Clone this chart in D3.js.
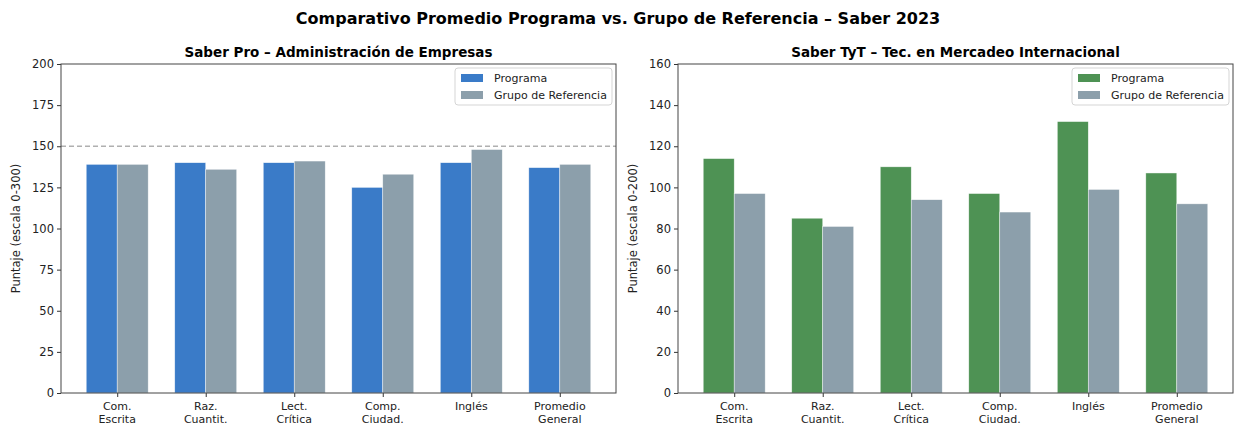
<!DOCTYPE html>
<html><head><meta charset="utf-8">
<script src="https://cdn.jsdelivr.net/npm/d3@7"></script>
<style>body{margin:0;background:#fff}svg{font-family:"DejaVu Sans",sans-serif}</style>
</head><body><svg id="c" width="1236" height="425"></svg>
<script>
const categories = ["Com.\nEscrita","Raz.\nCuantit.","Lect.\nCrítica","Comp.\nCiudad.","Inglés","Promedio\nGeneral"];
const seriesNames = ["Programa","Grupo de Referencia"];
const proPrograma = [139,140,140,125,140,137];
const proReferencia = [139,136,141,133,148,139];
const proTicks = [0,25,50,75,100,125,150,175,200];
const tytPrograma = [114,85,110,97,132,107];
const tytReferencia = [97,81,94,88,99,92];
const tytTicks = [0,20,40,60,80,100,120,140,160];
const proRefLine = 150;

const svg = d3.select("#c");
svg.append("text").attr("x",618).attr("y",24).attr("text-anchor","middle")
  .attr("font-size",16).attr("font-weight","bold").attr("fill","#000")
  .text("Comparativo Promedio Programa vs. Grupo de Referencia – Saber 2023");

function panel(opt){
  const {x0,x1,y0,y1} = opt;
  const g = svg.append("g");
  const n = categories.length, bw = 0.35;
  const x = d3.scaleLinear().domain([-0.635, n-1+0.635]).range([x0,x1]);
  const y = d3.scaleLinear().domain([0, opt.ticks[opt.ticks.length-1]]).range([y1,y0]);
  const series = [{vals:opt.a,color:opt.colorA,off:-bw/2},{vals:opt.b,color:"#8c9fab",off:bw/2}];
  series.forEach(s=>{
    g.selectAll(null).data(s.vals).enter().append("rect")
      .attr("x",(d,i)=>x(i+s.off-bw/2)).attr("width",x(bw)-x(0))
      .attr("y",d=>y(d)).attr("height",d=>y(0)-y(d))
      .attr("fill",s.color).attr("stroke","#fff").attr("stroke-width",0.6).attr("stroke-opacity",0.7);
  });
  if(opt.refLine!=null){
    g.append("line").attr("x1",x0).attr("x2",x1).attr("y1",y(opt.refLine)).attr("y2",y(opt.refLine))
      .attr("stroke","#b0b0b0").attr("stroke-width",1.3).attr("stroke-dasharray","5,3");
  }
  const ya = g.append("g").attr("transform",`translate(${x0},0)`)
    .call(d3.axisLeft(y).tickValues(opt.ticks).tickSize(4).tickPadding(3));
  ya.select(".domain").remove();
  ya.selectAll("text").attr("font-size",11.5).attr("fill","#222").attr("font-family","DejaVu Sans");
  ya.selectAll("line").attr("stroke","#333");
  const xa = g.append("g").attr("transform",`translate(0,${y1})`)
    .call(d3.axisBottom(x).tickValues(d3.range(n)).tickSize(4).tickFormat(""));
  xa.select(".domain").remove();
  xa.selectAll("line").attr("stroke","#333");
  categories.forEach((c,i)=>{
    const t = g.append("text").attr("x",x(i)).attr("y",y1+17).attr("text-anchor","middle")
      .attr("font-size",11).attr("fill","#222");
    c.split("\n").forEach((l,k)=>t.append("tspan").attr("x",x(i)).attr("dy",k?13:0).text(l));
  });
  g.append("rect").attr("x",x0).attr("y",y0).attr("width",x1-x0).attr("height",y1-y0)
    .attr("fill","none").attr("stroke","#444").attr("stroke-width",1);
  g.append("text").attr("x",(x0+x1)/2).attr("y",y0-7).attr("text-anchor","middle")
    .attr("font-size",13.5).attr("font-weight","bold").attr("fill","#000").text(opt.title);
  g.append("text").attr("transform",`translate(${opt.ylx},${(y0+y1)/2}) rotate(-90)`)
    .attr("text-anchor","middle").attr("font-size",11.5).attr("fill","#222").text(opt.ylabel);
  const lw=157, lx=x1-4-lw, ly=y0+4;
  const lg = g.append("g");
  lg.append("rect").attr("x",lx).attr("y",ly).attr("width",lw).attr("height",37).attr("rx",3)
    .attr("fill","#fff").attr("fill-opacity",0.8).attr("stroke","#d5d5d5");
  [opt.colorA,"#8c9fab"].forEach((c,k)=>{
    lg.append("rect").attr("x",lx+6).attr("y",ly+6+k*17).attr("width",22).attr("height",8).attr("fill",c);
    lg.append("text").attr("x",lx+39).attr("y",ly+14+k*17).attr("font-size",11).attr("fill","#222")
      .text(seriesNames[k]);
  });
}
panel({x0:61,x1:616,y0:64,y1:393,a:proPrograma,b:proReferencia,ticks:proTicks,colorA:"#3a7bc8",
  refLine:proRefLine,title:"Saber Pro – Administración de Empresas",ylabel:"Puntaje (escala 0-300)",ylx:20});
panel({x0:678,x1:1233,y0:64,y1:393,a:tytPrograma,b:tytReferencia,ticks:tytTicks,colorA:"#4e9254",
  refLine:null,title:"Saber TyT – Tec. en Mercadeo Internacional",ylabel:"Puntaje (escala 0-200)",ylx:637});
</script></body></html>
